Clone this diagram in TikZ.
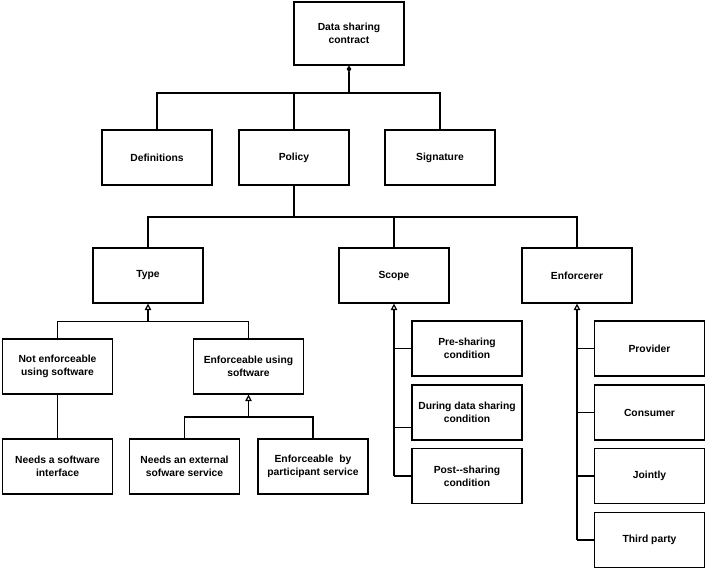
\documentclass[tikz,border=0pt]{standalone}
\usepackage{fontspec}
\setmainfont{Liberation Sans}
\usetikzlibrary{arrows.meta}

\begin{document}
\begin{tikzpicture}[x=0.03cm,y=-0.03cm,
        blk/.style={draw,line width=1pt,minimum width=3.3cm,minimum height=1.65cm,
            align=center,font=\fontsize{8.8}{11}\selectfont\bfseries},
        ln/.style={line width=1pt},
        gen/.style={ln,-{Triangle[open,length=5.5pt,width=5.5pt]}}]
        \useasboundingbox (0,0) rectangle (707,570);
        % top levels
        \node[blk,minimum height=1.89cm] (contract) at (349,33.5) {Data sharing\\contract};
        \node[blk] (defs) at (157,157.5) {Definitions};
        \node[blk] (policy) at (294,157.5) {Policy};
        \node[blk] (sign) at (440,157.5) {Signature};
        \node[blk] (type) at (148,275.5) {Type};
        \node[blk] (scope) at (394,275.5) {Scope};
        \node[blk] (enf) at (577,275.5) {Enforcerer};
        % type branch
        \node[blk] (notenf) at (57.5,366.5) {Not enforceable\\using software};
        \node[blk] (enfsw) at (248.5,366.5) {Enforceable using\\software};
        \node[blk] (needif) at (57.5,466.5) {Needs a software\\interface};
        \node[blk] (needext) at (184.5,466.5) {Needs an external\\sofware service};
        \node[blk] (bypart) at (313,466.5) {Enforceable\ \ by\\participant service};
        % scope branch
        \node[blk] (pre) at (467,348.5) {Pre-sharing\\condition};
        \node[blk] (during) at (467,412.5) {During data sharing\\condition};
        \node[blk] (post) at (467,476) {Post-{}-sharing\\condition};
        % enforcerer branch
        \node[blk] (prov) at (649.5,348.5) {Provider};
        \node[blk] (cons) at (649.5,412.5) {Consumer};
        \node[blk] (joint) at (649.5,476) {Jointly};
        \node[blk] (third) at (649.5,540) {Third party};

        \coordinate (c1) at (349,93);
        \draw[ln,-{Diamond[length=6pt,width=4pt]}] (c1) -- (contract.south);
        \draw[ln] (defs.north) |- (c1) -| (sign.north);
        \draw[ln] (policy.north) -- (policy.north |- c1);

        \coordinate (c2) at (294,217);
        \draw[ln] (policy.south) -- (c2);
        \draw[ln] (type.north) |- (c2) -| (enf.north);
        \draw[ln] (scope.north) -- (scope.north |- c2);

        \coordinate (c3) at (148,321.5);
        \draw[gen] (c3) -- (type.south);
        \draw[ln] (notenf.north) |- (c3) -| (enfsw.north);
        \draw[ln] (notenf.south) -- (needif.north);

        \coordinate (c4) at (248.5,417);
        \draw[gen] (c4) -- (enfsw.south);
        \draw[ln] (needext.north) |- (c4) -| (bypart.north);

        \draw[gen] (scope.south |- post.west) -- (scope.south);
        \draw[ln] (pre.west) -- (pre.west -| scope.south);
        \draw[ln] ([yshift=-0.45cm]during.west) -- ([yshift=-0.45cm]during.west -| scope.south);
        \draw[ln] (post.west) -- (post.west -| scope.south);

        \draw[gen] (enf.south |- third.west) -- (enf.south);
        \foreach \n in {prov,cons,joint,third} {
            \draw[ln] (\n.west) -- (\n.west -| enf.south);
        }
\end{tikzpicture}
\end{document}
